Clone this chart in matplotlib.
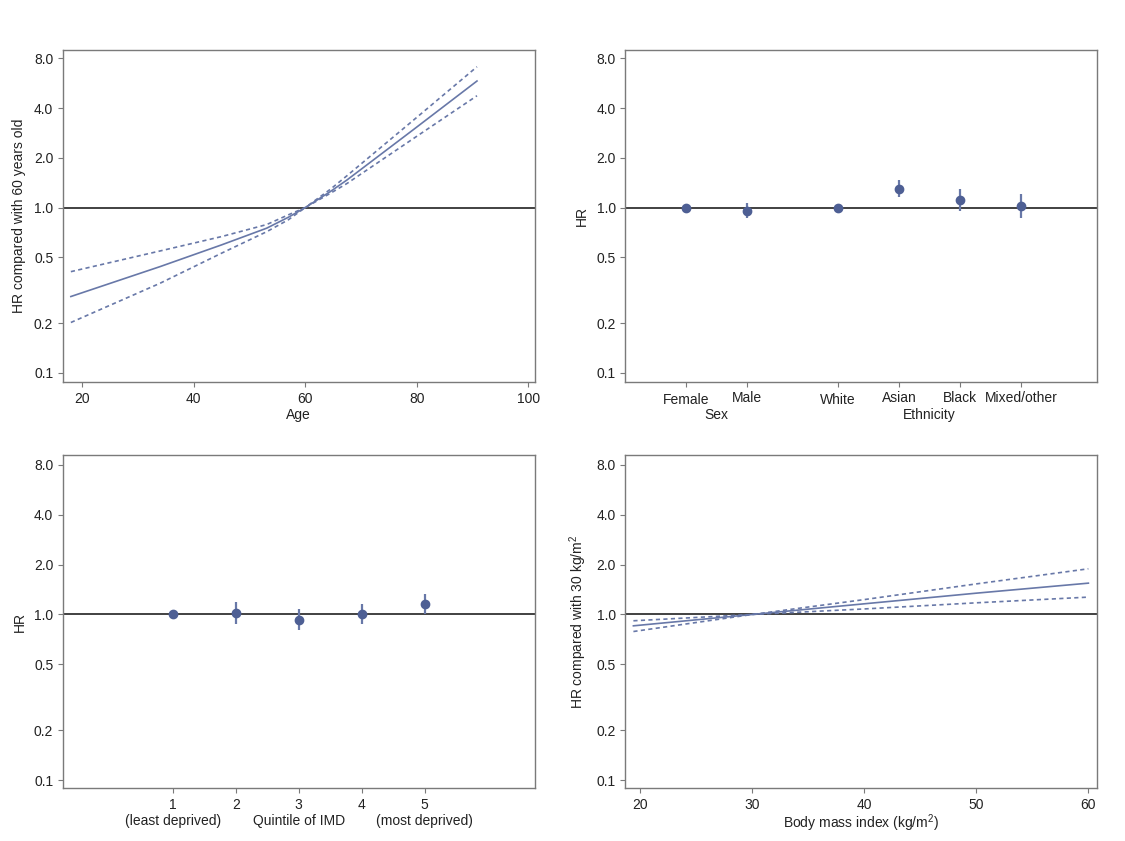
import numpy as np
import matplotlib
matplotlib.use("Agg")
from matplotlib import pyplot as plt

plt.rcParams["font.family"] = ["Liberation Sans", "DejaVu Sans"]
plt.rcParams["mathtext.fontset"] = "custom"
plt.rcParams["mathtext.rm"] = "Liberation Sans"
plt.rcParams["mathtext.it"] = "Liberation Sans:italic"
plt.rcParams["font.size"] = 10

# --- data ---
age = [18.0, 34.0, 45.0, 53.1, 57.0, 60.0, 64.5, 67.5, 79.5, 90.8]
age_hr = [0.290, 0.44, 0.595, 0.751, 0.875, 1.0, 1.25, 1.47, 2.98, 5.83]
age_hi = [0.41, 0.547, 0.668, 0.79, 0.905, 1.0, 1.29, 1.56, 3.40, 7.11]
age_lo = [0.202, 0.349, 0.53, 0.715, 0.845, 1.0, 1.22, 1.40, 2.63, 4.75]

group_labels = ["Female", "Male", "White", "Asian", "Black", "Mixed/other"]
group_pos = [1, 2, 3.5, 4.5, 5.5, 6.5]
group_hr = [1.0, 0.959, 1.0, 1.297, 1.107, 1.028]
group_hi = [1.0, 1.062, 1.0, 1.469, 1.29, 1.21]
group_lo = [1.0, 0.862, 1.0, 1.154, 0.959, 0.862]

imd = [1, 2, 3, 4, 5]
imd_hr = [1.0, 1.023, 0.929, 1.0, 1.16]
imd_hi = [1.0, 1.187, 1.077, 1.149, 1.333]
imd_lo = [1.0, 0.878, 0.808, 0.874, 1.0]

bmi = [19.4, 30.0, 40.0, 50.0, 60.0]
bmi_hr = [0.854, 1.0, 1.16, 1.345, 1.546]
bmi_hi = [0.916, 1.0, 1.23, 1.53, 1.888]
bmi_lo = [0.789, 1.0, 1.08, 1.176, 1.273]

yticks = [0.1, 0.2, 0.5, 1.0, 2.0, 4.0, 8.0]
ytick_labels = ["0.1", "0.2", "0.5", "1.0", "2.0", "4.0", "8.0"]

line_col = "#6878a8"
dot_col = "#4e5f94"
ref_col = "#333333"
spine_col = "#7a7a7a"

fig = plt.figure(figsize=(11.25, 8.41), dpi=100)
W, H = 1125, 841


def make_axes(l, t, r, b):
    return fig.add_axes([l / W, 1 - b / H, (r - l) / W, (b - t) / H])


def style(ax, ylim, ylabel):
    ax.set_yscale("log")
    ax.set_ylim(*ylim)
    ax.set_yticks(yticks)
    ax.set_yticklabels(ytick_labels)
    ax.minorticks_off()
    for s in ax.spines.values():
        s.set_color(spine_col)
        s.set_linewidth(1.0)
    ax.tick_params(axis="both", direction="out", length=3.6, width=0.8,
                   color=spine_col, labelcolor="#222222", labelsize=10, pad=3)
    ax.tick_params(axis="x", pad=3.4)
    ax.axhline(1.0, color=ref_col, lw=1.3, zorder=1)
    ax.set_ylabel(ylabel, fontsize=10, color="#222222")
    ax.yaxis.set_label_coords(-36 / 472, 0.5)


def note(ax, text, x, dy_px):
    ax.annotate(text, xy=(x, 0), xycoords=("data", "axes fraction"),
                xytext=(0, -dy_px * 72 / 100), textcoords="offset points",
                ha="center", va="center", fontsize=10, color="#222222",
                annotation_clip=False)


top_ylim = (0.0882, 8.98)
bot_ylim = (0.0895, 9.19)

# panel 1: age
ax1 = make_axes(62.5, 50, 535, 382)
ax1.plot(age, age_hr, color=line_col, lw=1.2, zorder=3)
ax1.plot(age, age_hi, color=line_col, lw=1.2, dashes=(2.5, 2), zorder=3)
ax1.plot(age, age_lo, color=line_col, lw=1.2, dashes=(2.5, 2), zorder=3)
ax1.set_xlim(16.5, 101.2)
ax1.set_xticks([20, 40, 60, 80, 100])
style(ax1, top_ylim, "HR compared with 60 years old")
note(ax1, "Age", 58.85, 33)

# panel 2: sex and ethnicity
ax2 = make_axes(625, 50, 1097, 382)
err2 = [np.array(group_hr) - np.array(group_lo), np.array(group_hi) - np.array(group_hr)]
ax2.errorbar(group_pos, group_hr, yerr=err2, fmt="o", color=dot_col, ecolor=line_col,
             elinewidth=1.6, capsize=0, markersize=6, zorder=3)
ax2.set_xlim(0, 7.75)
ax2.set_xticks(group_pos)
ax2.set_xticklabels(group_labels)
style(ax2, top_ylim, "HR")
for i, t in enumerate(ax2.xaxis.get_major_ticks()):
    t.set_pad(4.4 if i in (0, 2) else 3.2)
note(ax2, "Sex", 1.5, 33)
note(ax2, "Ethnicity", 5.0, 33)

# panel 3: IMD quintile
ax3 = make_axes(62.5, 455, 535, 788)
err3 = [np.array(imd_hr) - np.array(imd_lo), np.array(imd_hi) - np.array(imd_hr)]
ax3.errorbar(imd, imd_hr, yerr=err3, fmt="o", color=dot_col, ecolor=line_col,
             elinewidth=1.6, capsize=0, markersize=6, zorder=3)
ax3.set_xlim(-0.75, 6.75)
ax3.set_xticks(imd)
style(ax3, bot_ylim, "HR")
note(ax3, "(least deprived)", 1, 33)
note(ax3, "Quintile of IMD", 3, 33)
note(ax3, "(most deprived)", 5, 33)

# panel 4: BMI
ax4 = make_axes(625, 455, 1097, 788)
ax4.plot(bmi, bmi_hr, color=line_col, lw=1.2, zorder=3)
ax4.plot(bmi, bmi_hi, color=line_col, lw=1.2, dashes=(2.5, 2), zorder=3)
ax4.plot(bmi, bmi_lo, color=line_col, lw=1.2, dashes=(2.5, 2), zorder=3)
ax4.set_xlim(18.65, 60.77)
ax4.set_xticks([20, 30, 40, 50, 60])
style(ax4, bot_ylim, "HR compared with 30 kg/m$^2$")
note(ax4, "Body mass index (kg/m$^2$)", 39.71, 35)

fig.savefig("out.png", dpi=100)
